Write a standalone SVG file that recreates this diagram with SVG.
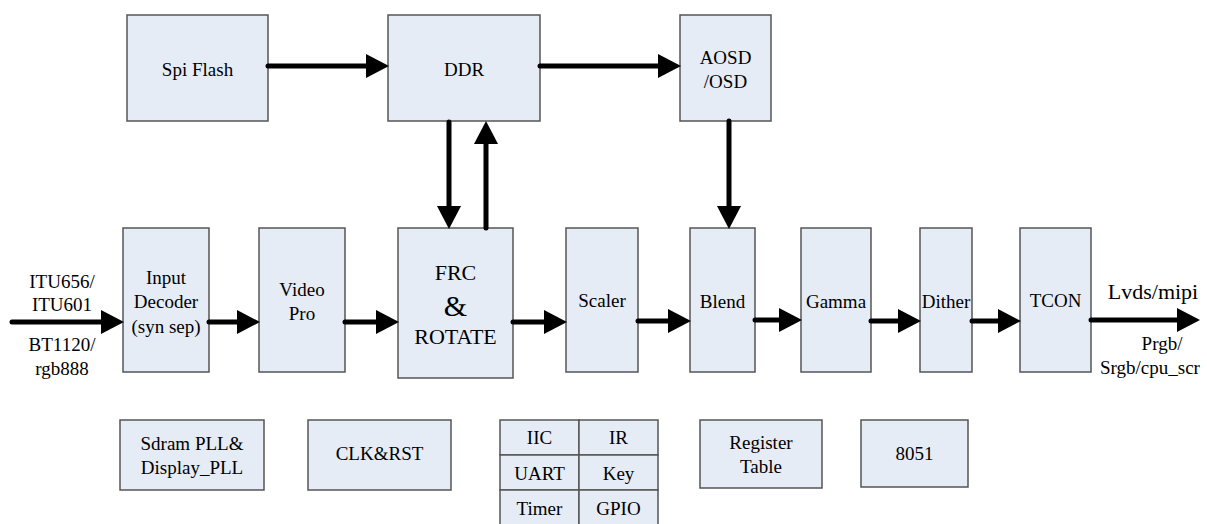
<svg xmlns="http://www.w3.org/2000/svg" width="1207" height="524" viewBox="0 0 1207 524">
<style>
.box{fill:#E6ECF6;stroke:#555;stroke-width:1.5}
text{font-family:"Liberation Serif",Tinos,"Times New Roman","DejaVu Serif","Noto Serif",serif;font-size:19px;fill:#000;text-anchor:middle;dominant-baseline:central}
.big{font-size:22px}
.amp{font-size:30px}
.c{fill:none;stroke:#000;stroke-width:5;stroke-linecap:round}
</style>
<defs>
<marker id="ah" markerUnits="userSpaceOnUse" markerWidth="24" markerHeight="26" refX="7" refY="12" orient="auto" overflow="visible">
<path d="M0,0 L23,12 L0,24 z" fill="#000"/>
</marker>
</defs>
<rect width="1207" height="524" fill="#fff"/>
<g id="spiflash"><rect class="box" x="127" y="15" width="141" height="106"/><text x="197.5" y="69">Spi Flash</text></g>
<g id="ddr"><rect class="box" x="388" y="15" width="152" height="106"/><text x="464" y="69">DDR</text></g>
<g id="aosd"><rect class="box" x="680" y="15" width="91" height="106"/><text x="725.5" y="57">AOSD</text><text x="725.5" y="81">/OSD</text></g>

<g id="input_decoder"><rect class="box" x="123" y="228" width="86" height="144"/><text x="166" y="277">Input</text><text x="166" y="301">Decoder</text><text x="166" y="326">(syn sep)</text></g>
<g id="video_pro"><rect class="box" x="259" y="228" width="86" height="144"/><text x="302" y="289">Video</text><text x="302" y="313">Pro</text></g>
<g id="frc"><rect class="box" x="398" y="228" width="115" height="150"/><text class="big" x="455.5" y="272">FRC</text><text class="amp" x="455.5" y="305">&amp;</text><text class="big" x="455.5" y="336">ROTATE</text></g>
<g id="scaler"><rect class="box" x="566" y="228" width="72" height="144"/><text x="602" y="300">Scaler</text></g>
<g id="blend"><rect class="box" x="690" y="228" width="65" height="144"/><text x="722.5" y="301">Blend</text></g>
<g id="gamma"><rect class="box" x="801" y="228" width="70" height="144"/><text x="836" y="301">Gamma</text></g>
<g id="dither"><rect class="box" x="920" y="228" width="52" height="144"/><text x="946" y="301">Dither</text></g>
<g id="tcon"><rect class="box" x="1020" y="228" width="71" height="144"/><text x="1055.5" y="300">TCON</text></g>

<g id="pll"><rect class="box" x="120" y="420" width="144" height="70"/><text x="192" y="443">Sdram PLL&amp;</text><text x="192" y="467">Display_PLL</text></g>
<g id="clkrst"><rect class="box" x="308" y="420" width="143" height="70"/><text x="379.5" y="453">CLK&amp;RST</text></g>
<g id="periph">
<rect class="box" x="500" y="420" width="79" height="35"/><rect class="box" x="579" y="420" width="79" height="35"/>
<rect class="box" x="500" y="455" width="79" height="35"/><rect class="box" x="579" y="455" width="79" height="35"/>
<rect class="box" x="500" y="490" width="79" height="36"/><rect class="box" x="579" y="490" width="79" height="36"/>
<text x="539.5" y="437">IIC</text><text x="618.5" y="437">IR</text>
<text x="539.5" y="473">UART</text><text x="618.5" y="473">Key</text>
<text x="539.5" y="508">Timer</text><text x="618.5" y="508">GPIO</text>
</g>
<g id="regtable"><rect class="box" x="700" y="420" width="122" height="68"/><text x="761" y="442">Register</text><text x="761" y="466">Table</text></g>
<g id="mcu8051"><rect class="box" x="861" y="420" width="107" height="67"/><text x="914.5" y="453">8051</text></g>

<g id="labels">
<text x="62" y="281">ITU656/</text>
<text x="62" y="304">ITU601</text>
<text x="62" y="344">BT1120/</text>
<text x="62" y="368">rgb888</text>
<text class="big" x="1153" y="291">Lvds/mipi</text>
<text x="1162" y="343">Prgb/</text>
<text x="1150" y="367">Srgb/cpu_scr</text>
</g>
<g id="connectors">
<path class="c" d="M268,66 H373" marker-end="url(#ah)"/>
<path class="c" d="M540,66 H665" marker-end="url(#ah)"/>
<path class="c" d="M449,122 V213" marker-end="url(#ah)"/>
<path class="c" d="M486,228 V137" marker-end="url(#ah)"/>
<path class="c" d="M729,121 V213" marker-end="url(#ah)"/>
<path class="c" d="M12,322 H108" marker-end="url(#ah)"/>
<path class="c" d="M209,322 H244" marker-end="url(#ah)"/>
<path class="c" d="M345,322 H383" marker-end="url(#ah)"/>
<path class="c" d="M513,322 H551" marker-end="url(#ah)"/>
<path class="c" d="M638,321 H675" marker-end="url(#ah)"/>
<path class="c" d="M755,320 H786" marker-end="url(#ah)"/>
<path class="c" d="M871,321 H905" marker-end="url(#ah)"/>
<path class="c" d="M972,321 H1005" marker-end="url(#ah)"/>
<path class="c" d="M1091,320 H1184" marker-end="url(#ah)"/>
</g>
</svg>
